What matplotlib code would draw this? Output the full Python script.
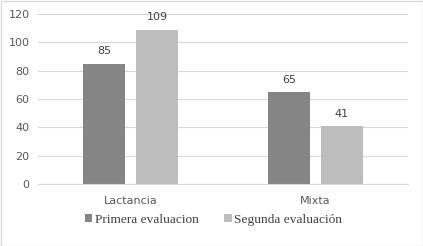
import matplotlib
matplotlib.use('Agg')
import matplotlib.pyplot as plt
import numpy as np
from matplotlib.patches import Rectangle

categorias = ['Lactancia', 'Mixta']
primera = [85, 65]
segunda = [109, 41]
series = ['Primera evaluacion', 'Segunda evaluación']
yticks = [0, 20, 40, 60, 80, 100, 120]

fig = plt.figure(figsize=(4.23, 2.46), dpi=100)
ax = fig.add_axes([38/423, 1-184/246, 370/423, 170/246])
fig.patches.append(Rectangle((0.5/423, 0.5/246), 1-1/423, 1-1/246, transform=fig.transFigure,
                             fill=False, edgecolor='#d9d9d9', linewidth=1))

x = np.arange(len(categorias))
w = 0.227
off = 0.143
b1 = ax.bar(x - off, primera, w, color='#858585')
b2 = ax.bar(x + off, segunda, w, color='#bdbdbd')

for bars, vals in [(b1, primera), (b2, segunda)]:
    for r, v in zip(bars, vals):
        ax.text(r.get_x() + r.get_width()/2, v + 5, str(v), ha='center', va='bottom',
                fontsize=8, color='#404040')

ax.set_xlim(-0.5, 1.5)
ax.set_ylim(0, 120)
ax.set_yticks(yticks)
ax.set_xticks(x)
ax.set_xticklabels(categorias)
ax.grid(axis='y', color='#d9d9d9', linewidth=0.8)
ax.set_axisbelow(True)
for s in ['top', 'right', 'left']:
    ax.spines[s].set_visible(False)
ax.spines['bottom'].set_color('#d9d9d9')
ax.tick_params(length=0, labelsize=8, colors='#595959', pad=6)
ax.tick_params(axis='x', pad=9)

leg = fig.legend([b1, b2], series, loc='center', bbox_to_anchor=(0.505, 1-220/246), ncol=2,
                 frameon=False, prop={'family': 'Liberation Serif', 'size': 9.6},
                 handlelength=0.55, handleheight=0.55, handletextpad=0.2, columnspacing=1.9)
for t in leg.get_texts():
    t.set_color('#404040')

fig.savefig('out.png', dpi=100)
